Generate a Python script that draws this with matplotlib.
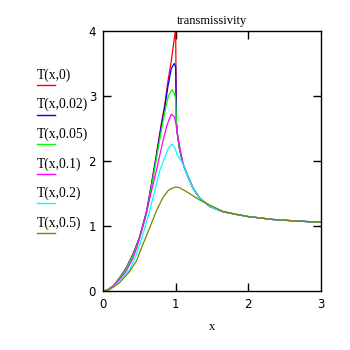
import numpy as np
import matplotlib
matplotlib.use("Agg")
import matplotlib.pyplot as plt

labels = ["T(x,0)", "T(x,0.02)", "T(x,0.05)", "T(x,0.1)", "T(x,0.2)", "T(x,0.5)"]
colors = ["#ff0000", "#0000ff", "#00ff00", "#ff00ff", "#00ffff", "#808000"]

# right branch shared by the lightly damped curves
tail_x = [1.05, 1.1, 1.17, 1.24, 1.33, 1.47, 1.65, 1.85, 2.0, 2.34, 2.66, 3.0]
tail_T = [2.2, 1.96, 1.76, 1.58, 1.43, 1.30, 1.22, 1.175, 1.145, 1.10, 1.077, 1.057]

x0 = [0, 0.05, 0.14, 0.23, 0.32, 0.41, 0.5, 0.6, 0.665, 0.734, 0.8, 0.85, 0.894, 0.94, 0.995, 1.0, 1.01, 1.02]
T0 = [0, 0.01, 0.077, 0.205, 0.36, 0.56, 0.82, 1.23, 1.64, 2.10, 2.56, 2.87, 3.23, 3.54, 4.0, 4.0, 2.6, 2.45]

x002 = [0, 0.05, 0.14, 0.23, 0.32, 0.41, 0.5, 0.6, 0.665, 0.734, 0.8, 0.85, 0.894, 0.94, 0.98, 1.0, 1.01, 1.02]
T002 = [0, 0.01, 0.075, 0.2, 0.355, 0.55, 0.81, 1.21, 1.62, 2.07, 2.52, 2.82, 3.15, 3.42, 3.5, 3.45, 2.6, 2.45]

x005 = [0, 0.05, 0.14, 0.23, 0.32, 0.41, 0.5, 0.6, 0.665, 0.734, 0.8, 0.85, 0.9, 0.95, 0.985, 1.0, 1.01, 1.02]
T005 = [0, 0.01, 0.074, 0.2, 0.35, 0.54, 0.80, 1.19, 1.59, 2.03, 2.45, 2.75, 3.0, 3.1, 3.03, 2.95, 2.6, 2.45]

x01 = [0, 0.05, 0.14, 0.23, 0.32, 0.41, 0.46, 0.55, 0.642, 0.734, 0.826, 0.88, 0.94, 0.98, 1.0, 1.03]
T01 = [0, 0.01, 0.07, 0.18, 0.31, 0.50, 0.65, 1.0, 1.42, 1.85, 2.31, 2.55, 2.72, 2.68, 2.6, 2.37]

x02 = [0, 0.05, 0.14, 0.23, 0.367, 0.459, 0.55, 0.642, 0.711, 0.78, 0.849, 0.9, 0.95, 0.99, 1.02]
T02 = [0, 0.01, 0.06, 0.16, 0.33, 0.56, 0.87, 1.23, 1.54, 1.85, 2.05, 2.2, 2.26, 2.2, 2.1]

x05 = [0, 0.09, 0.23, 0.367, 0.459, 0.55, 0.642, 0.734, 0.826, 0.9, 0.95, 1.0, 1.05, 1.147, 1.33, 1.51, 1.65, 1.85, 2.0, 2.34, 2.66, 3.0]
T05 = [0, 0.02, 0.13, 0.30, 0.46, 0.72, 0.97, 1.23, 1.44, 1.55, 1.58, 1.6, 1.59, 1.53, 1.40, 1.30, 1.225, 1.175, 1.145, 1.10, 1.077, 1.057]

curves = [
    (x0 + tail_x, T0 + tail_T),
    (x002 + tail_x, T002 + tail_T),
    (x005 + tail_x, T005 + tail_T),
    (x01 + tail_x[1:], T01 + tail_T[1:]),
    (x02 + tail_x[1:], T02 + tail_T[1:]),
    (x05, T05),
]

fig = plt.figure(figsize=(3.5, 3.5), dpi=100)
ax = fig.add_axes([103 / 350, 59 / 350, 218 / 350, 260 / 350])

for (xs, ts), c in zip(curves, colors):
    ax.plot(xs, ts, color=c, lw=0.9)

ax.set_xlim(0, 3)
ax.set_ylim(0, 4)
ax.set_xticks([0, 1, 2, 3])
ax.set_yticks([0, 1, 2, 3, 4])
ax.tick_params(direction="in", length=6, width=1, top=True, right=True,
               labelsize=8.5, pad=5)
# inner ticks only, like the original
for t in ax.xaxis.get_major_ticks()[::3] + ax.yaxis.get_major_ticks()[::4]:
    t.tick1line.set_visible(False)
    t.tick2line.set_visible(False)
for s in ax.spines.values():
    s.set_linewidth(1)

ax.set_title("transmissivity", family="Liberation Serif", fontsize=9, pad=5)
ax.set_xlabel("x", family="Liberation Serif", fontsize=9, labelpad=7)

# legend at the left, text with a short coloured line under it
for i, (lab, c) in enumerate(zip(labels, colors)):
    yt = 75 + i * 29.6
    fig.text(37 / 350, 1 - yt / 350, lab, family="Liberation Serif",
             fontsize=9.8, va="center", ha="left")
    fig.add_artist(plt.Line2D([37 / 350, 55 / 350],
                              [1 - (yt + 10) / 350] * 2, color=c, lw=1))

fig.savefig("out.png", dpi=100)
